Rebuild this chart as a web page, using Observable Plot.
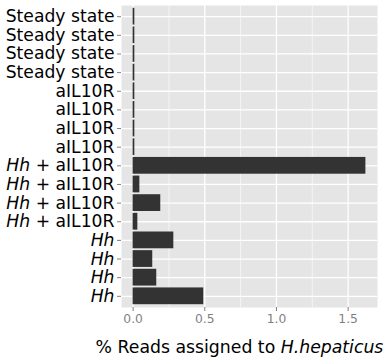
<!DOCTYPE html>
<html>
<head>
<meta charset="utf-8">
<script src="https://cdn.jsdelivr.net/npm/d3@7"></script>
<script src="https://cdn.jsdelivr.net/npm/@observablehq/plot@0.6"></script>
<style>
  html, body { margin: 0; padding: 0; background: white; }
</style>
</head>
<body>
<div id="chart"></div>
<script>
const labels = [
  "Steady state", "Steady state", "Steady state", "Steady state",
  "aIL10R", "aIL10R", "aIL10R", "aIL10R",
  "Hh + aIL10R", "Hh + aIL10R", "Hh + aIL10R", "Hh + aIL10R",
  "Hh", "Hh", "Hh", "Hh"
];
const values = [
  0.012, 0.012, 0.012, 0.012,
  0.012, 0.012, 0.012, 0.012,
  1.624, 0.047, 0.193, 0.033,
  0.284, 0.137, 0.165, 0.493
];
const xTicks = [0, 0.5, 1, 1.5];
const xMinor = [0.25, 0.75, 1.25];

const ids = labels.map((_, i) => i);

const svg = Plot.plot({
  width: 384,
  height: 358,
  marginLeft: 121,
  marginRight: 7,
  marginTop: 5,
  marginBottom: 51,
  style: { fontFamily: "DejaVu Sans", background: "white" },
  x: { domain: [-0.081, 1.705], label: null, axis: null },
  y: { domain: ids, paddingInner: 0.1, paddingOuter: 0.15, round: false, label: null, axis: null },
  marks: [
    Plot.frame({ fill: "#E5E5E5", stroke: null }),
    Plot.gridX(xMinor, { stroke: "white", strokeOpacity: 1, strokeWidth: 0.6 }),
    Plot.gridX(xTicks, { stroke: "white", strokeOpacity: 1, strokeWidth: 1.3 }),
    Plot.gridY(ids, { stroke: "white", strokeOpacity: 1, strokeWidth: 1.3 }),
    Plot.barX(ids, { x: i => values[i], y: i => i, fill: "#333333" }),
    Plot.axisX(xTicks, { tickFormat: d3.format(".1f"), tickSize: 4, tickPadding: 3, fontSize: 12.3, fill: "#7F7F7F", stroke: "#7F7F7F", label: null }),
    Plot.axisY(ids, { tickFormat: i => labels[i], tickSize: 4, tickPadding: 3, fontSize: 17.2, fill: "black", stroke: "#7F7F7F", label: null })
  ]
});

// italicise "Hh" in y tick labels
d3.select(svg).selectAll('g[aria-label="y-axis tick label"] text').each(function () {
  const t = this.textContent;
  if (t.startsWith("Hh")) {
    const sel = d3.select(this);
    sel.text(null);
    sel.append("tspan").attr("font-style", "italic").text("Hh");
    const rest = t.slice(2);
    if (rest) sel.append("tspan").text(rest);
  }
});

// axis title with italic species name
const title = d3.select(svg).append("text")
  .attr("x", 239.5)
  .attr("y", 353)
  .attr("text-anchor", "middle")
  .attr("font-size", 17.3)
  .attr("fill", "black");
title.append("tspan").text("% Reads assigned to ");
title.append("tspan").attr("font-style", "italic").text("H.hepaticus");

document.getElementById("chart").append(svg);
</script>
</body>
</html>
